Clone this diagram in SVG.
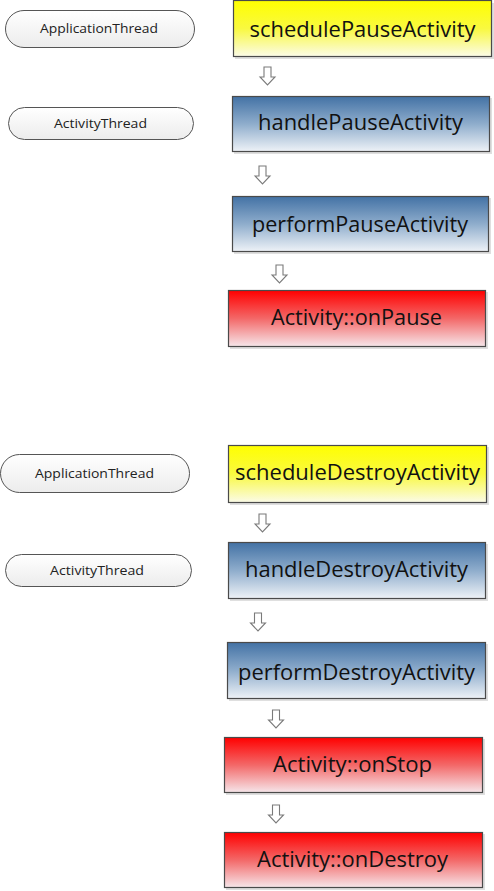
<svg xmlns="http://www.w3.org/2000/svg" width="494" height="891" viewBox="0 0 494 891">
<defs>
<linearGradient id="gy" x1="0" y1="0" x2="0" y2="1"><stop offset="0" stop-color="#ffff00"/><stop offset="0.5" stop-color="#f9f940"/><stop offset="1" stop-color="#fbfbe8"/></linearGradient>
<linearGradient id="gb" x1="0" y1="0" x2="0" y2="1"><stop offset="0" stop-color="#4372a5"/><stop offset="0.5" stop-color="#8fadcc"/><stop offset="1" stop-color="#eef2f7"/></linearGradient>
<linearGradient id="gr" x1="0" y1="0" x2="0" y2="1"><stop offset="0" stop-color="#ff0000"/><stop offset="0.5" stop-color="#f36868"/><stop offset="1" stop-color="#f6e6ea"/></linearGradient>
<linearGradient id="gp" x1="0" y1="0" x2="0" y2="1"><stop offset="0" stop-color="#ffffff"/><stop offset="1" stop-color="#ececec"/></linearGradient>
</defs>
<style>
.box{stroke:#4a4a4a;stroke-width:1.2}
.sh{fill:#c9c9c9;opacity:0.6}
.pill{fill:url(#gp);stroke:#555;stroke-width:1}
.t{font-family:"Open Sans","Noto Sans",sans-serif;font-size:22px;fill:#111;text-anchor:middle}
.pt{font-family:"Open Sans","Noto Sans",sans-serif;font-size:13px;fill:#222;text-anchor:middle}
.arr{fill:#fff;stroke:#7a7a7a;stroke-width:1.1;stroke-linejoin:miter}
</style>
<g id="appThread1"><rect class="pill" x="5.5" y="10.5" width="189" height="37" rx="18.5"/><text class="pt" x="99" y="33" textLength="118" lengthAdjust="spacingAndGlyphs">ApplicationThread</text></g>
<g id="actThread1"><rect class="pill" x="8.5" y="107.5" width="185" height="32" rx="16"/><text class="pt" x="100.5" y="128" textLength="93" lengthAdjust="spacingAndGlyphs">ActivityThread</text></g>
<g id="appThread2"><rect class="pill" x="0.5" y="454.5" width="189" height="38" rx="19"/><text class="pt" x="94.5" y="478" textLength="119" lengthAdjust="spacingAndGlyphs">ApplicationThread</text></g>
<g id="actThread2"><rect class="pill" x="5.5" y="554.5" width="186" height="32" rx="16"/><text class="pt" x="97" y="575" textLength="94" lengthAdjust="spacingAndGlyphs">ActivityThread</text></g>

<g id="schedulePause"><rect class="sh" x="235" y="3" width="259" height="56"/><rect class="box" fill="url(#gy)" x="233.5" y="0.5" width="258" height="56"/><text class="t" x="362.5" y="37" textLength="226" lengthAdjust="spacingAndGlyphs">schedulePauseActivity</text></g>
<g id="handlePause"><rect class="sh" x="234" y="98" width="258" height="56"/><rect class="box" fill="url(#gb)" x="232.5" y="96.5" width="257" height="55"/><text class="t" x="360.5" y="130" textLength="205" lengthAdjust="spacingAndGlyphs">handlePauseActivity</text></g>
<g id="performPause"><rect class="sh" x="234" y="198" width="257" height="56"/><rect class="box" fill="url(#gb)" x="232.5" y="196.5" width="256" height="55"/><text class="t" x="360" y="232" textLength="216" lengthAdjust="spacingAndGlyphs">performPauseActivity</text></g>
<g id="onPause"><rect class="sh" x="230" y="292" width="258" height="57"/><rect class="box" fill="url(#gr)" x="228.5" y="290.5" width="257" height="56"/><text class="t" x="356.5" y="325" textLength="171" lengthAdjust="spacingAndGlyphs">Activity::onPause</text></g>

<g id="scheduleDestroy"><rect class="sh" x="230" y="447" width="259" height="58"/><rect class="box" fill="url(#gy)" x="228.5" y="445.5" width="258" height="57"/><text class="t" x="357.5" y="480" textLength="245" lengthAdjust="spacingAndGlyphs">scheduleDestroyActivity</text></g>
<g id="handleDestroy"><rect class="sh" x="230" y="544" width="258" height="57"/><rect class="box" fill="url(#gb)" x="228.5" y="542.5" width="257" height="56"/><text class="t" x="356.5" y="577" textLength="223" lengthAdjust="spacingAndGlyphs">handleDestroyActivity</text></g>
<g id="performDestroy"><rect class="sh" x="229" y="644" width="259" height="57"/><rect class="box" fill="url(#gb)" x="227.5" y="642.5" width="258" height="56"/><text class="t" x="356.5" y="680" textLength="237" lengthAdjust="spacingAndGlyphs">performDestroyActivity</text></g>
<g id="onStop"><rect class="sh" x="226" y="739" width="259" height="56"/><rect class="box" fill="url(#gr)" x="224.5" y="737.5" width="258" height="55"/><text class="t" x="352.5" y="772" textLength="159" lengthAdjust="spacingAndGlyphs">Activity::onStop</text></g>
<g id="onDestroy"><rect class="sh" x="226" y="834" width="259" height="56"/><rect class="box" fill="url(#gr)" x="224.5" y="832.5" width="258" height="55"/><text class="t" x="352.5" y="867" textLength="191" lengthAdjust="spacingAndGlyphs">Activity::onDestroy</text></g>

<g id="connectors">
<path class="arr" d="M264,67 H271 V77 H275 L267.5,85 L260,77 H264 Z"/>
<path class="arr" d="M259,166 H266 V176 H270 L262.5,184 L255,176 H259 Z"/>
<path class="arr" d="M276,265 H283 V275 H287 L279.5,283 L272,275 H276 Z"/>
<path class="arr" d="M259,514 H266 V524 H270 L262.5,532 L255,524 H259 Z"/>
<path class="arr" d="M254.5,613 H261.5 V623 H265.5 L258,631 L250.5,623 H254.5 Z"/>
<path class="arr" d="M272.5,710 H279.5 V720 H283.5 L276,728 L268.5,720 H272.5 Z"/>
<path class="arr" d="M272.5,805 H279.5 V815 H283.5 L276,823 L268.5,815 H272.5 Z"/>
</g>
</svg>
